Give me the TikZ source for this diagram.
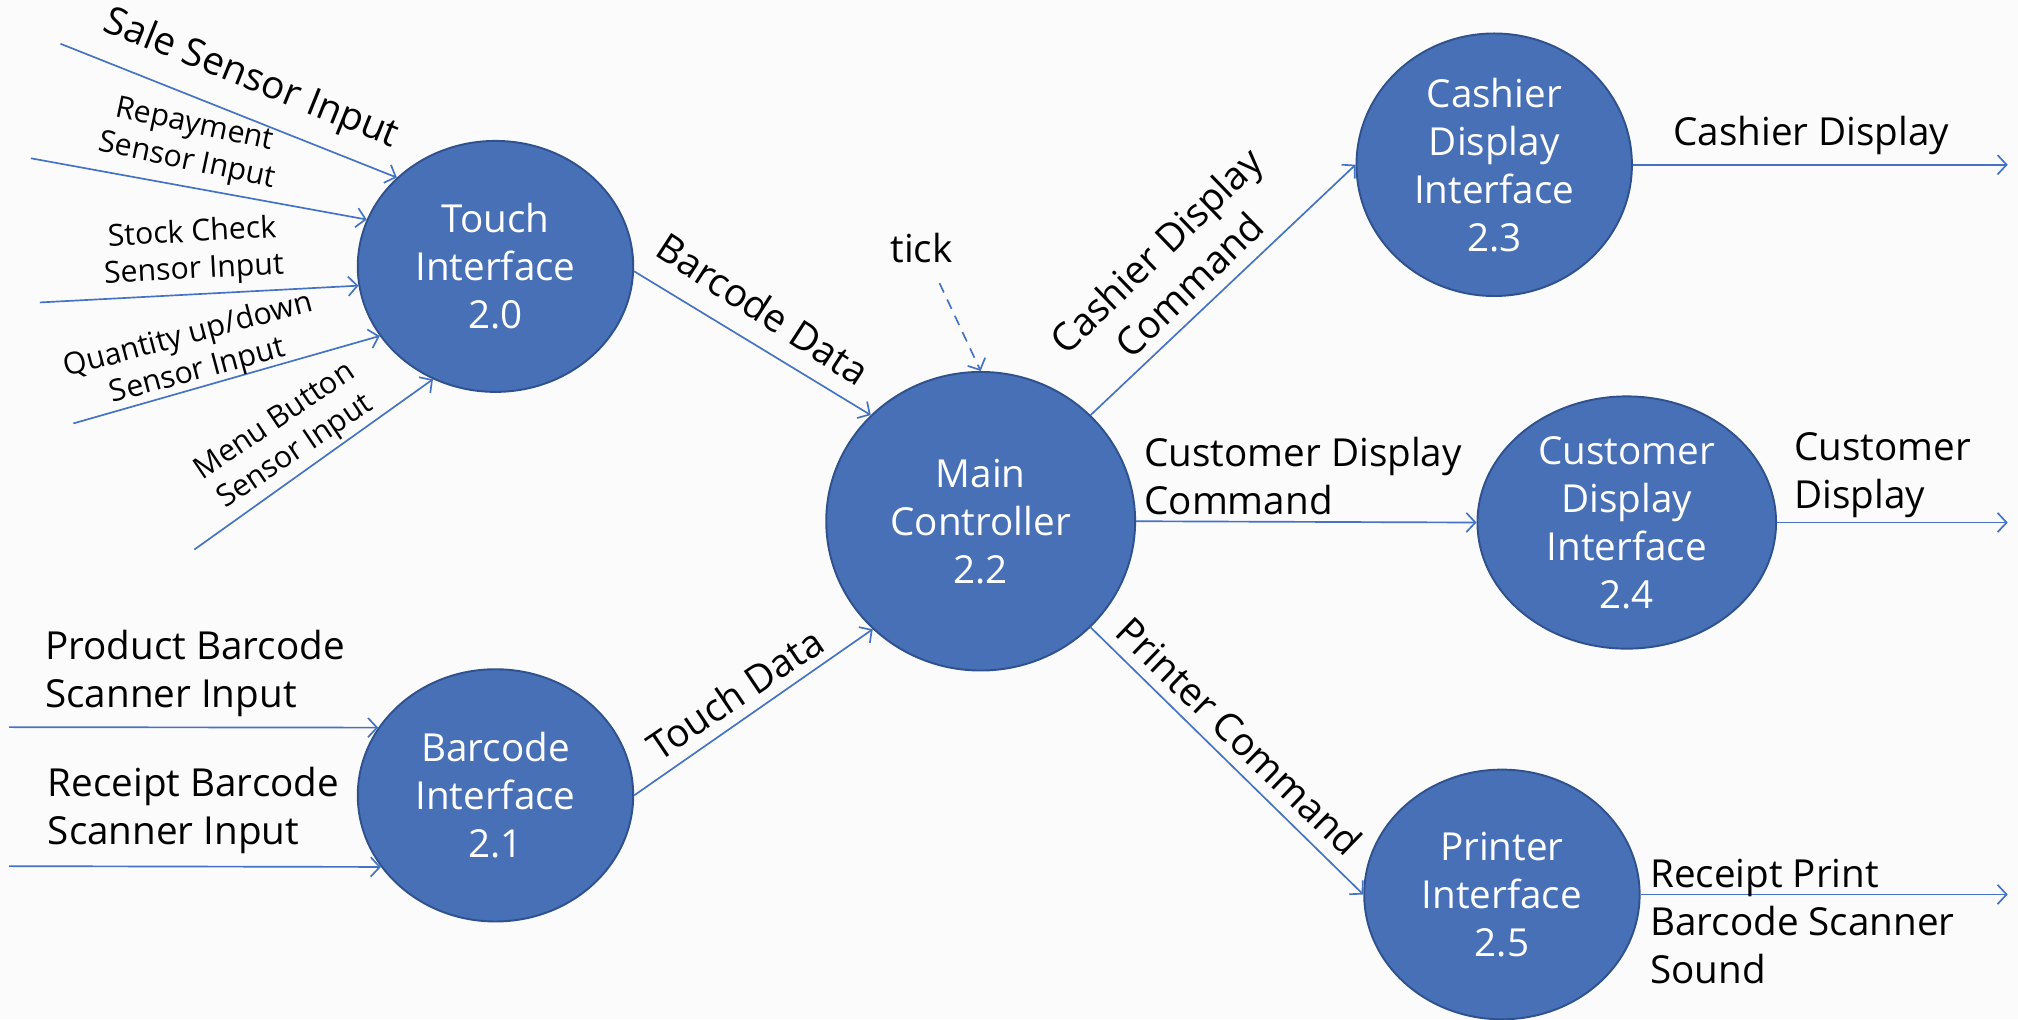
\documentclass[tikz,border=0pt]{standalone}
\usepackage{fontspec}
\setmainfont{Open Sans}
\usetikzlibrary{arrows.meta,shapes.geometric}
\definecolor{bubble}{HTML}{4770B6}
\definecolor{rimblue}{HTML}{2F528F}
\definecolor{lineblue}{HTML}{4472C4}
\definecolor{paper}{RGB}{251,251,252}
\newcommand{\bigtxt}{\fontsize{30}{37.3}\selectfont}
\newcommand{\smalltxt}{\fontsize{23.5}{28.5}\selectfont}
\begin{document}
\begin{tikzpicture}[x=1pt,y=-1pt,
  proc/.style={ellipse, draw=rimblue, line width=1.5pt, fill=bubble, text=white, align=center, inner sep=0pt, font=\bigtxt},
  flow/.style={draw=lineblue, line width=1.3pt, -{Straight Barb[length=7pt,width=15pt,line width=1.3pt]}},
  lbl/.style={align=center, font=\bigtxt, inner sep=0pt, text=black},
  slbl/.style={align=center, font=\smalltxt, inner sep=0pt, text=black}]
\fill[paper] (0,0) rectangle (1568,792);
\useasboundingbox (0,0) rectangle (1568,792);

% processes
\node[proc, minimum width=214pt, minimum height=195pt] (t) at (385,207) {Touch\\Interface\\2.0};
\node[proc, minimum width=214pt, minimum height=196pt] (b) at (385,618) {Barcode\\Interface\\2.1};
\node[proc, minimum width=240pt, minimum height=232pt] (m) at (762,405) {Main\\Controller\\2.2};
\node[proc, minimum width=214pt, minimum height=204pt] (c) at (1161,128) {Cashier\\Display\\Interface\\2.3};
\node[proc, minimum width=232pt, minimum height=196pt] (u) at (1264,406) {Customer\\Display\\Interface\\2.4};
\node[proc, minimum width=214pt, minimum height=194pt] (p) at (1167,695) {Printer\\Interface\\2.5};

% free ends
\coordinate (sale) at (47,34);
\coordinate (rep) at (24,123);
\coordinate (stock) at (31,235);
\coordinate (qty) at (57,329);
\coordinate (menu) at (151,427);
\coordinate (prod) at (7,565);
\coordinate (rcpt) at (7,673);
\coordinate (tickS) at (730,220);
\coordinate (cout) at (1560,128);
\coordinate (uout) at (1560,406);
\coordinate (pout) at (1560,695);

% connectors
\draw[flow] (sale) -- (t.138);
\draw[flow] (rep) -- (t.160);
\draw[flow] (stock) -- (t.188);
\draw[flow] (qty) -- (t.211);
\draw[flow] (menu) -- (t.241);
\draw[flow] (prod) -- (b.150);
\draw[flow] (rcpt) -- (b.212);
\draw[flow] (t.-2) -- (m.136);
\draw[flow] (b.0) -- (m.225);
\draw[flow, dashed, dash pattern=on 8pt off 6pt] (tickS) -- (m.90);
\draw[flow] (m.44) -- (c.180);
\draw[flow] (m.0) -- (u.180);
\draw[flow] (m.-44) -- (p.180);
\draw[flow] (c.0) -- (cout);
\draw[flow] (u.0) -- (uout);
\draw[flow] (p.0) -- (pout);

% labels
\node[lbl, rotate=-22] (lsale) at (195,62) {Sale Sensor Input};
\node[slbl, rotate=-12] (lrep) at (148,112) {Repayment\\Sensor Input};
\node[slbl, rotate=3] (lstock) at (150,196) {Stock Check\\Sensor Input};
\node[slbl, rotate=15] (lqty) at (150,275) {Quantity up/down\\Sensor Input};
\node[slbl, rotate=34] (lmenu) at (222,340) {Menu Button\\Sensor Input};
\node[lbl, align=left, anchor=west] (lprod) at (35,523) {Product Barcode\\Scanner Input};
\node[lbl, align=left, anchor=west] (lrcpt) at (37,630) {Receipt Barcode\\Scanner Input};
\node[lbl, rotate=-33] (lbd) at (593,240) {Barcode Data};
\node[lbl, rotate=34] (ltd) at (571,539) {Touch Data};
\node[lbl] (ltick) at (716,193) {tick};
\node[lbl, rotate=44] (lccmd) at (911,208) {Cashier Display\\Command};
\node[lbl, align=left, anchor=west] (lucmd) at (889,370) {Customer Display\\Command};
\node[lbl, rotate=-44] (lpcmd) at (963,572) {Printer Command};
\node[lbl, anchor=west] (lcout) at (1300,105) {Cashier Display};
\node[lbl, align=left, anchor=west] (luout) at (1394,369) {Customer\\Display};
\node[lbl, align=left, anchor=west] (lpout) at (1282,716) {Receipt Print\\Barcode Scanner\\Sound};
\end{tikzpicture}
\end{document}
